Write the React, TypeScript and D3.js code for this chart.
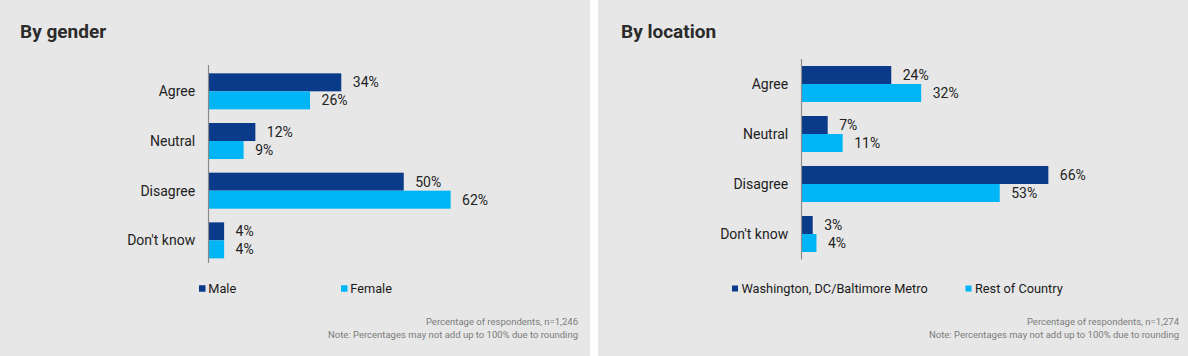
import React from "react";
import * as d3 from "d3";

const categories = ["Agree", "Neutral", "Disagree", "Don't know"];
const genderSeries = ["Male", "Female"];
const genderMale = [34, 12, 50, 4];
const genderFemale = [26, 9, 62, 4];
const locationSeries = ["Washington, DC/Baltimore Metro", "Rest of Country"];
const locationDC = [24, 7, 66, 3];
const locationRest = [32, 11, 53, 4];
const genderNote = ["Percentage of respondents, n=1,246", "Note: Percentages may not add up to 100% due to rounding"];
const locationNote = ["Percentage of respondents, n=1,274", "Note: Percentages may not add up to 100% due to rounding"];

const COLORS = ["#0a3a8a", "#00b5f5"];
const FONT = "Roboto, 'Noto Sans', sans-serif";

type PanelProps = {
  x0: number;
  width: number;
  title: string;
  titleX: number;
  series: string[];
  values: number[][];
  axisX: number;
  pxPerPct: number;
  yRange: [number, number];
  axisY: [number, number];
  padding: number;
  legendX: number[];
  legendSq: number;
  legendGap: number;
  noteRight: number;
  notes: string[];
};

function Panel(p: PanelProps) {
  const y = d3.scaleBand<string>().domain(categories).range(p.yRange).paddingInner(p.padding).paddingOuter(p.padding / 2);
  const sub = d3.scaleBand<string>().domain(p.series).range([0, y.bandwidth()]);
  const x = d3.scaleLinear().domain([0, 100]).range([p.axisX, p.axisX + 100 * p.pxPerPct]);
  return (
    <g>
      <rect x={p.x0} y={0} width={p.width} height={356} fill="#e7e7e7" />
      <text x={p.titleX} y={37.5} fontFamily={FONT} fontWeight={700} fontSize={19} fill="#2b2b2b">
        {p.title}
      </text>
      {categories.map((c, i) => (
        <g key={c}>
          <text x={p.axisX - 13.3} y={(y(c) as number) + y.bandwidth() / 2} dy="0.36em" textAnchor="end" fontFamily={FONT} fontSize={14} fill="#222">
            {c}
          </text>
          {p.series.map((s, j) => {
            const v = p.values[j][i];
            const by = (y(c) as number) + (sub(s) as number);
            return (
              <g key={s}>
                <rect x={x(0)} y={by} width={x(v) - x(0)} height={sub.bandwidth()} fill={COLORS[j]} />
                <text x={x(v) + 11.5} y={by + sub.bandwidth() / 2} dy="0.36em" fontFamily={FONT} fontSize={14} fill="#222">
                  {v}%
                </text>
              </g>
            );
          })}
        </g>
      ))}
      <line x1={p.axisX} x2={p.axisX} y1={p.axisY[0]} y2={p.axisY[1]} stroke="#8a8a8a" strokeWidth={1.2} />
      {p.series.map((s, j) => (
        <g key={s}>
          <rect x={p.legendX[j]} y={288.5 - p.legendSq / 2} width={p.legendSq} height={p.legendSq} fill={COLORS[j]} />
          <text x={p.legendX[j] + p.legendSq + p.legendGap} y={288.5} dy="0.36em" fontFamily={FONT} fontSize={12.75} fill="#1a1a1a">
            {s}
          </text>
        </g>
      ))}
      {p.notes.map((n, k) => (
        <text key={n} x={p.noteRight} y={325 + k * 13} textAnchor="end" fontFamily={FONT} fontSize={9.5} fill="#7a7d7a">
          {n}
        </text>
      ))}
    </g>
  );
}

export default function App() {
  return (
    <svg width={1188} height={356} style={{ position: "absolute", left: 0, top: 0, background: "#ffffff" }}>
      <Panel
        x0={0}
        width={590}
        title="By gender"
        titleX={20}
        series={genderSeries}
        values={[genderMale, genderFemale]}
        axisX={208.5}
        pxPerPct={3.905}
        yRange={[66.5, 265.2]}
        axisY={[65, 263]}
        padding={0.2752}
        legendX={[199, 341]}
        legendSq={6.5}
        legendGap={2.8}
        noteRight={578}
        notes={genderNote}
      />
      <Panel
        x0={598}
        width={590}
        title="By location"
        titleX={621}
        series={locationSeries}
        values={[locationDC, locationRest]}
        axisX={801.5}
        pxPerPct={3.74}
        yRange={[59, 259]}
        axisY={[59, 259.5]}
        padding={0.28}
        legendX={[732, 965.5]}
        legendSq={6}
        legendGap={3.5}
        noteRight={1179}
        notes={locationNote}
      />
    </svg>
  );
}
